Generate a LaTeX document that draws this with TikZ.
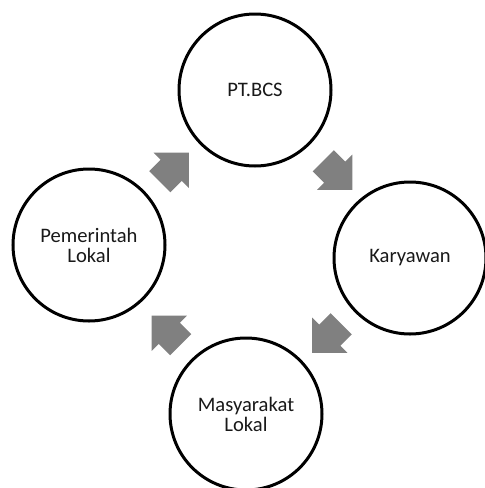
\documentclass[tikz,border=0pt]{standalone}
\usepackage{fontspec}
\setmainfont{Carlito}
\usetikzlibrary{shapes.arrows,calc}
\tikzset{
  lingkaran/.style={circle,draw,line width=1.5pt,minimum size=76pt,inner sep=0pt,
    align=center,text=black!90,font=\fontsize{10.3}{10}\selectfont},
  panah/.style={single arrow,fill=black!50,inner xsep=0pt,inner ysep=7.25pt,
    minimum height=20.5pt,single arrow head extend=5pt,single arrow tip angle=90}
}
\begin{document}
\begin{tikzpicture}[x=0.5pt,y=-0.5pt]
    \clip(0,0)rectangle(485,488);%batas gambar
    \node[lingkaran](bcs)at(255,90){PT.BCS};%atas
    \node[lingkaran](karyawan)at(410,258){Karyawan};%kanan
    \node[lingkaran](masyarakat)at(246,414){Masyarakat\\Lokal};%bawah
    \node[lingkaran](pemda)at(89,245){Pemerintah\\Lokal};%kiri
    \node[panah,rotate=45]at($(pemda)!0.5!(bcs)+(-3,5)$){};
    \node[panah,rotate=-45]at($(bcs)!0.5!(karyawan)+(0,-4)$){};
    \node[panah,rotate=-135]at($(karyawan)!0.5!(masyarakat)+(4,-3)$){};
    \node[panah,rotate=135]at($(masyarakat)!0.5!(pemda)+(4,6)$){};
\end{tikzpicture}
\end{document}
